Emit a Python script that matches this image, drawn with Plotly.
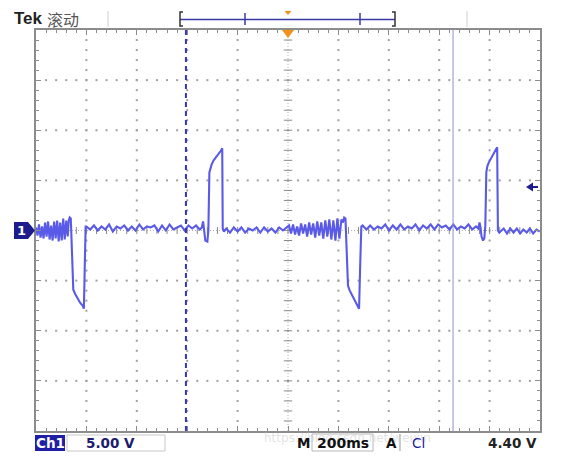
import plotly.graph_objects as go

# ---------------- data (time in ms, voltage in V; 200 ms/div, 5 V/div) ----------------
seg_a_t = list(range(0, 130, 6))
seg_a_v = [0.3, -0.5, 0.6, -0.7, 0.4, -0.8, 0.8, -0.6, 0.9, -0.9, 0.5, -1.0, 0.9, -0.8, 1.0,
           -1.1, 0.8, -1.0, 1.2, -0.9, 1.0, -0.6]

pulse1_t = [130, 134, 138, 143, 148, 155, 165, 175, 185, 190, 194, 197]
pulse1_v = [1.0, 1.3, 1.2, -3.0, -5.9, -6.3, -6.8, -7.2, -7.5, -7.8, -3.0, 0.4]

seg_b_t = list(range(200, 660, 15))
seg_b_v = [0.4, 0.1, 0.5, 0.0, 0.4, 0.1, 0.6, -0.1, 0.4, 0.2, 0.5, 0.0, 0.4, 0.0, 0.6,
           0.1, 0.4, 0.3, 0.5, -0.1, 0.5, 0.0, 0.6, 0.1, 0.3, 0.5, 0.0, 0.5, 0.2, 0.5, 0.1]

pulse2_t = [658, 663, 667, 672, 680, 684, 688, 692, 697, 705, 715, 725, 735, 739, 741, 746]
pulse2_v = [0.3, 0.9, -0.2, -1.0, -1.1, 0.0, 5.8, 6.3, 6.6, 7.0, 7.3, 7.7, 8.0, 8.2, 0.2, -0.1]

seg_c_t = list(range(755, 1000, 15))
seg_c_v = [0.2, -0.2, 0.3, -0.1, 0.3, -0.2, 0.2, 0.0, 0.3, -0.2, 0.3, -0.1, 0.2, -0.2, 0.3,
           0.0, 0.3]

seg_d_t = list(range(1004, 1220, 8))
seg_d_v = [0.5, -0.3, 0.6, -0.4, 0.4, -0.5, 0.7, -0.3, 0.6, -0.6, 0.8, -0.4, 0.7, -0.7, 0.9,
           -0.5, 0.8, -0.8, 1.0, -0.6, 1.1, -0.9, 1.0, -1.0, 1.2, -0.8, 1.1]

pulse3_t = [1218, 1223, 1228, 1232, 1238, 1245, 1255, 1265, 1275, 1282, 1287, 1291]
pulse3_v = [0.8, 1.3, 1.2, -2.0, -5.5, -6.0, -6.5, -7.0, -7.4, -7.8, -3.0, 0.4]

seg_e_t = list(range(1296, 1755, 15))
seg_e_v = [0.5, 0.1, 0.5, 0.1, 0.4, 0.2, 0.6, 0.0, 0.5, 0.1, 0.6, 0.1, 0.4, 0.2, 0.6,
           0.0, 0.5, 0.2, 0.6, 0.1, 0.6, 0.3, 0.5, 0.1, 0.6, 0.1, 0.4, 0.2, 0.6, 0.1, 0.4]

pulse4_t = [1755, 1760, 1764, 1768, 1774, 1779, 1783, 1787, 1791, 1797, 1805, 1815, 1825, 1830, 1833, 1838]
pulse4_v = [0.2, 0.8, 0.3, -0.6, -1.0, -0.8, 0.5, 5.8, 6.4, 6.8, 7.2, 7.7, 8.1, 8.3, 0.0, -0.2]

seg_f_t = list(range(1843, 2001, 13))
seg_f_v = [-0.1, 0.2, -0.3, 0.2, -0.2, 0.2, -0.3, 0.1, -0.2, 0.2, -0.3, 0.1, -0.1]

time_ms = seg_a_t + pulse1_t + seg_b_t + pulse2_t + seg_c_t + seg_d_t + pulse3_t + seg_e_t + pulse4_t + seg_f_t
volts = seg_a_v + pulse1_v + seg_b_v + pulse2_v + seg_c_v + seg_d_v + pulse3_v + seg_e_v + pulse4_v + seg_f_v

cursor1_ms = 595      # dashed cursor
cursor2_ms = 1655     # thin cursor
trigger_ms = 1000
t_range = [0, 2000]
v_range = [-20, 20]
t_div = 200
v_div = 5

# header / footer texts
header_tek = "Tek"
header_mode = "滚动"
ch_label = "Ch1"
ch_scale = "5.00 V"
time_scale = "200ms"
trig_level = "4.40 V"
watermark = "https://blog.csdn.net/weixin"

# ---------------- figure ----------------
OFF = 8                      # page body margin
L, T = 36 - OFF, 30 - OFF    # graticule top-left in the window is (36, 30)
PW, PH = 504, 401
W, H = 554, 448
R, B = W - L - PW, H - T - PH


def px(x):
    return (x - OFF - L) / PW


def py(y):
    return (T + PH - (y - OFF)) / PH


fig = go.Figure()

# graticule dots
gx, gy = [], []
for t in range(t_range[0] + t_div, t_range[1], t_div):
    if t == trigger_ms:
        continue
    for v in range(v_range[0] + 1, v_range[1]):
        gx.append(t); gy.append(v)
for v in range(v_range[0] + v_div, v_range[1], v_div):
    if v == 0:
        continue
    for t in range(40, t_range[1], 40):
        gx.append(t); gy.append(v)
fig.add_trace(go.Scatter(x=gx, y=gy, mode="markers", hoverinfo="skip",
                         marker=dict(symbol="square", size=2, color="#a0a0a0", line=dict(width=0))))

# center crosshair ticks
ct = list(range(40, 2000, 40))
fig.add_trace(go.Scatter(x=ct, y=[0] * len(ct), mode="markers", hoverinfo="skip",
                         marker=dict(symbol="line-ns", size=5, line=dict(width=1, color="#8a8a8a"))))
cv = list(range(-19, 20))
fig.add_trace(go.Scatter(x=[trigger_ms] * len(cv), y=cv, mode="markers", hoverinfo="skip",
                         marker=dict(symbol="line-ew", size=6, line=dict(width=1, color="#8a8a8a"))))

# waveform
fig.add_trace(go.Scatter(x=time_ms, y=volts, mode="lines", hoverinfo="skip",
                         line=dict(color="#5a5ae8", width=2.1)))

shapes = []
# center lines (dotted)
shapes.append(dict(type="line", xref="x", yref="paper", x0=trigger_ms, x1=trigger_ms, y0=0, y1=1,
                   line=dict(color="#b0b0b0", width=1, dash="1px,2px"), layer="below"))
shapes.append(dict(type="line", xref="paper", yref="y", x0=0, x1=1, y0=0, y1=0,
                   line=dict(color="#b0b0b0", width=1, dash="1px,2px"), layer="below"))
# cursors
shapes.append(dict(type="line", xref="x", yref="paper", x0=cursor1_ms, x1=cursor1_ms, y0=0, y1=1,
                   line=dict(color="#3434c4", width=2, dash="5px,4px")))
shapes.append(dict(type="line", xref="x", yref="paper", x0=cursor2_ms, x1=cursor2_ms, y0=0, y1=1,
                   line=dict(color="#9090d0", width=1)))


def path(points, **kw):
    d = "M " + " L ".join(f"{px(x):.5f},{py(y):.5f}" for x, y in points)
    if kw.pop("closed", False):
        d += " Z"
    s = dict(type="path", xref="paper", yref="paper", path=d, layer="above")
    s.update(kw)
    return s


navy = "#1c1c8e"
# trigger position marker (orange) at top of graticule
shapes.append(path([(282, 30), (294, 30), (288, 38)], closed=True, fillcolor="#f39217",
                   line=dict(width=0)))
# small orange marker in the header bar
shapes.append(path([(284.5, 11), (291.5, 11), (288, 15)], closed=True, fillcolor="#f39217",
                   line=dict(width=0)))
# record-length bar
bar_c = "#3a3aa6"
shapes.append(path([(180, 19.5), (395, 19.5)], line=dict(color=bar_c, width=1.5)))
shapes.append(path([(183, 12), (180, 12), (180, 26), (183, 26)], line=dict(color="#333", width=1.5)))
shapes.append(path([(392, 12), (395, 12), (395, 26), (392, 26)], line=dict(color="#333", width=1.5)))
shapes.append(path([(245, 13), (245, 25)], line=dict(color=bar_c, width=1.5)))
shapes.append(path([(360, 13), (360, 25)], line=dict(color=bar_c, width=1.5)))
# header separators
shapes.append(path([(108, 11), (108, 27)], line=dict(color="#d0d0d0", width=1)))
shapes.append(path([(467, 11), (467, 27)], line=dict(color="#d0d0d0", width=1)))
# channel 1 ground marker
shapes.append(path([(14, 222), (28, 222), (35, 230.5), (28, 239), (14, 239)], closed=True,
                   fillcolor=navy, line=dict(width=0)))
# trigger level arrow on right
shapes.append(path([(526, 187), (533, 182.5), (533, 191.5)], closed=True, fillcolor=navy,
                   line=dict(width=0)))
shapes.append(path([(532, 187), (538, 187)], line=dict(color=navy, width=2)))
# footer boxes
shapes.append(dict(type="rect", xref="paper", yref="paper", x0=px(35), x1=px(65), y0=py(451), y1=py(435),
                   fillcolor="#1f1fa6", line=dict(width=0), layer="above"))
shapes.append(dict(type="rect", xref="paper", yref="paper", x0=px(67), x1=px(165), y0=py(451), y1=py(435),
                   fillcolor="rgba(0,0,0,0)", line=dict(color="#c8c8c8", width=1), layer="above"))
shapes.append(dict(type="rect", xref="paper", yref="paper", x0=px(312), x1=px(373), y0=py(451), y1=py(434),
                   fillcolor="rgba(0,0,0,0)", line=dict(color="#b8b8b8", width=1), layer="above"))
shapes.append(path([(400, 434), (400, 451)], line=dict(color="#999", width=1)))

ann = []
ann.append(dict(x=px(262), y=py(438), xref="paper", yref="paper", text=watermark,
                showarrow=False, xanchor="left", yanchor="middle",
                font=dict(size=12, color="rgba(200,200,200,0.5)", family="DejaVu Sans")))


def text(x, y, s, size=13, color="#111", bold=True, family="DejaVu Sans", anchor="left"):
    ann.append(dict(x=px(x), y=py(y), xref="paper", yref="paper", text=f"<b>{s}</b>" if bold else s,
                    showarrow=False, xanchor=anchor, yanchor="middle", borderpad=0,
                    font=dict(size=size, color=color, family=family)))


text(13, 18.5, header_tek, size=17, color="#222", family="Liberation Sans")
text(46, 18.5, header_mode, size=16, color="#555", bold=False, family="Noto Sans CJK SC")
text(21.5, 230.5, "1", size=13, color="white", anchor="center")
text(50, 443, ch_label, size=13.5, color="white", anchor="center")
text(110, 443, ch_scale, size=13.5, color="#1c1c6e", anchor="center")
text(303.5, 443, "M", size=13.5, color="#111", anchor="center")
text(342.5, 443, time_scale, size=14, color="#111", anchor="center")
text(391.5, 443, "A", size=13.5, color="#111", anchor="center")
text(418, 443, "Cl", size=13.5, color="#2020a0", bold=False, anchor="center")
text(512.5, 443, trig_level, size=13.5, color="#222", anchor="center")

axis_common = dict(showgrid=False, zeroline=False, showline=True, linecolor="#8c8c8c", linewidth=2,
                   mirror="allticks", ticks="inside", ticklen=5, tickcolor="#8c8c8c", tickwidth=1,
                   showticklabels=False, fixedrange=True)
fig.update_xaxes(range=t_range, tick0=0, dtick=t_div,
                 minor=dict(ticks="inside", dtick=40, ticklen=3, tickcolor="#8c8c8c", showgrid=False),
                 **axis_common)
fig.update_yaxes(range=v_range, tick0=0, dtick=v_div,
                 minor=dict(ticks="inside", dtick=1, ticklen=3, tickcolor="#8c8c8c", showgrid=False),
                 **axis_common)

fig.update_layout(width=W, height=H, margin=dict(l=L, r=R, t=T, b=B),
                  plot_bgcolor="white", paper_bgcolor="white", showlegend=False,
                  shapes=shapes, annotations=ann)

fig.write_html("out.html")
